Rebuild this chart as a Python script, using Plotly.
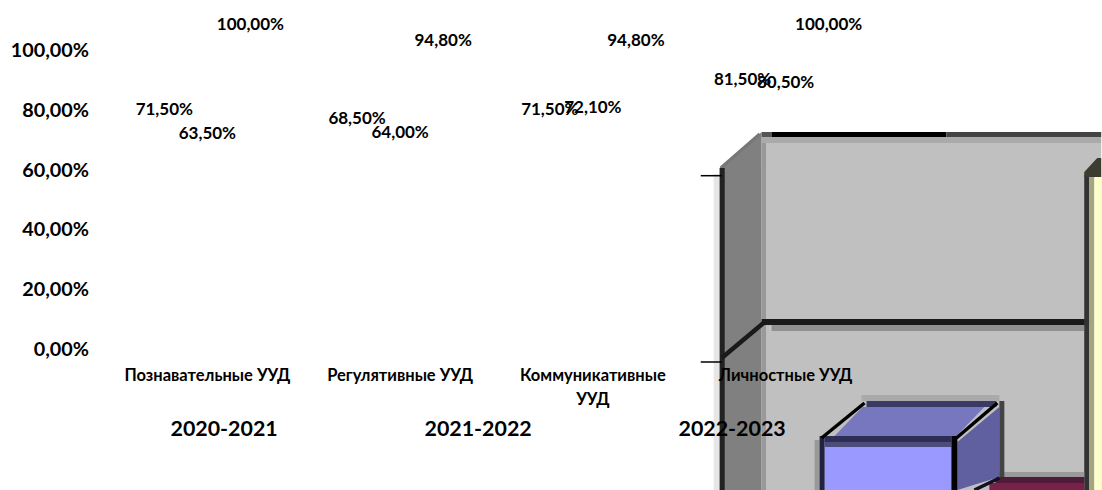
import plotly.graph_objects as go

categories = ["Познавательные УУД", "Регулятивные УУД", "Коммуникативные УУД", "Личностные УУД"]
category_labels = ["Познавательные УУД", "Регулятивные УУД", "Коммуникативные<br>УУД", "Личностные УУД"]
series_names = ["2020-2021", "2021-2022", "2022-2023"]
values_2020 = [0.715, 0.685, 0.715, 0.815]
values_2021 = [0.635, 0.64, 0.721, 0.805]
values_2022 = [1.0, 0.948, 0.948, 1.0]
y_ticks = [0, 0.2, 0.4, 0.6, 0.8, 1.0]

W, H = 1102, 490
L, R, T, B = 110.5, 882.5, 50, 349
FONT = "Lato"
INK = "#000000"


def px(x):
    return (x - L) / (R - L)


def py(y):
    return (B - y) / (B - T)


def rect(x0, y0, x1, y1, color):
    return dict(type="rect", xref="paper", yref="paper", layer="below",
                x0=px(x0), x1=px(x1), y0=py(y0), y1=py(y1),
                fillcolor=color, line=dict(width=0))


def poly(points, color):
    path = "M " + " L ".join(f"{px(a):.5f},{py(b):.5f}" for a, b in points) + " Z"
    return dict(type="path", xref="paper", yref="paper", layer="below", path=path,
                fillcolor=color, line=dict(width=0))


def seg(x0, y0, x1, y1, color, width):
    return dict(type="line", xref="paper", yref="paper", layer="below",
                x0=px(x0), x1=px(x1), y0=py(y0), y1=py(y1),
                line=dict(color=color, width=width))


shapes = [
    rect(714, 174, 720, 490, "#e6e6e6"),
    poly([(720, 168), (762, 132), (762, 490), (720, 490)], "#808080"),
    rect(762, 137, 767, 490, "#999999"),
    rect(767, 143, 1102, 490, "#c0c0c0"),
    rect(762, 137, 1102, 143, "#aaaaaa"),
    rect(762, 132, 772, 137, "#555555"),
    rect(772, 132, 947, 137, "#000000"),
    rect(947, 132, 1102, 137, "#444444"),
    seg(721, 168, 760, 134, "#777777", 3),
    rect(720, 168, 725, 490, "#222222"),
    rect(772, 325, 1085, 331, "#909090"),
    rect(762, 319, 1090, 325, "#1a1a1a"),
    seg(722, 358, 765, 322, "#1a1a1a", 4.5),
    seg(701, 175.7, 722, 175.7, "#000000", 1.5),
    seg(701, 362, 722, 362, "#000000", 1.5),
    # yellow bar
    rect(1085, 175, 1090, 490, "#333333"),
    rect(1090, 177, 1095, 490, "#a5a582"),
    rect(1095, 177, 1102, 490, "#ffffcc"),
    poly([(1085, 172), (1098, 158), (1102, 158), (1102, 177), (1085, 177)], "#3c3c30"),
    # maroon bar
    rect(996, 472, 1085, 477, "#999999"),
    rect(996, 477, 1085, 483, "#501a3a"),
    rect(990, 483, 1085, 490, "#772248"),
    # blue bar
    rect(862, 395, 1000, 401, "#aaaaaa"),
    rect(867, 401, 997, 407, "#3a3a66"),
    poly([(835, 436), (863, 407), (985, 407), (957, 436)], "#7777bf"),
    poly([(958, 442), (1000, 407), (1000, 477), (958, 490)], "#6060a0"),
    rect(1000, 401, 1005, 477, "#444444"),
    rect(815, 440, 820, 490, "#999999"),
    rect(825, 447, 952, 490, "#9999ff"),
    rect(820, 436, 825, 490, "#222244"),
    rect(825, 436, 952, 442, "#2e2e55"),
    rect(825, 442, 952, 447, "#4c4c7d"),
    rect(952, 436, 958, 490, "#000000"),
    seg(822, 438, 865, 403, "#000000", 3.5),
    seg(957, 438, 998, 403, "#000000", 3.5),
    seg(975, 490, 1000, 478, "#111122", 3.5),
]

all_values = [values_2020, values_2021, values_2022]

fig = go.Figure()
for name, vals in zip(series_names, all_values):
    fig.add_trace(go.Bar(name=name, x=categories, y=vals, marker=dict(color="rgba(0,0,0,0)", line=dict(width=0)),
                         showlegend=True, hoverinfo="skip"))
for name, vals in zip(series_names, all_values):
    fig.add_trace(go.Scatter(name=name, x=categories, y=vals, mode="markers+text", showlegend=False,
                             marker=dict(size=23.5, opacity=0), texttemplate="%{y:.2%}",
                             textposition="top center", cliponaxis=False,
                             textfont=dict(family=FONT, size=17, color=INK, weight="bold")))

fig.update_layout(
    width=W, height=H,
    margin=dict(l=L, r=W - R, t=T, b=H - B, pad=0, autoexpand=False),
    paper_bgcolor="white", plot_bgcolor="rgba(0,0,0,0)",
    separators=", ",
    barmode="group", bargap=0.33, bargroupgap=0,
    scattermode="group", scattergap=0.33,
    shapes=shapes,
    font=dict(family=FONT, color=INK),
    showlegend=True,
    legend=dict(orientation="h", x=px(130), xanchor="left", y=py(428), yanchor="middle",
                entrywidth=209, entrywidthmode="pixels", bgcolor="rgba(0,0,0,0)",
                font=dict(family=FONT, size=21.4, color=INK, weight="bold")),
    xaxis=dict(type="category", categoryorder="array", categoryarray=categories,
               tickvals=categories,
               ticktext=[f'<span style="font-size:16.5px">{c.replace("<br>", "</span><br><span style=\"font-size:16.5px\">")}</span>'
                         for c in category_labels],
               showgrid=False, zeroline=False, showline=False, ticks="", tickangle=0,
               ticklabelstandoff=12, tickfont=dict(family=FONT, size=18.5, color=INK, weight="bold")),
    yaxis=dict(range=[0, 1], tickvals=y_ticks, tickformat=".2%", showgrid=False, zeroline=False,
               showline=False, ticks="", ticklabelstandoff=21,
               tickfont=dict(family=FONT, size=19.8, color=INK, weight="bold")),
)

fig.write_html("out.html", post_script="document.body.style.margin='0';", config=dict(displayModeBar=False))
